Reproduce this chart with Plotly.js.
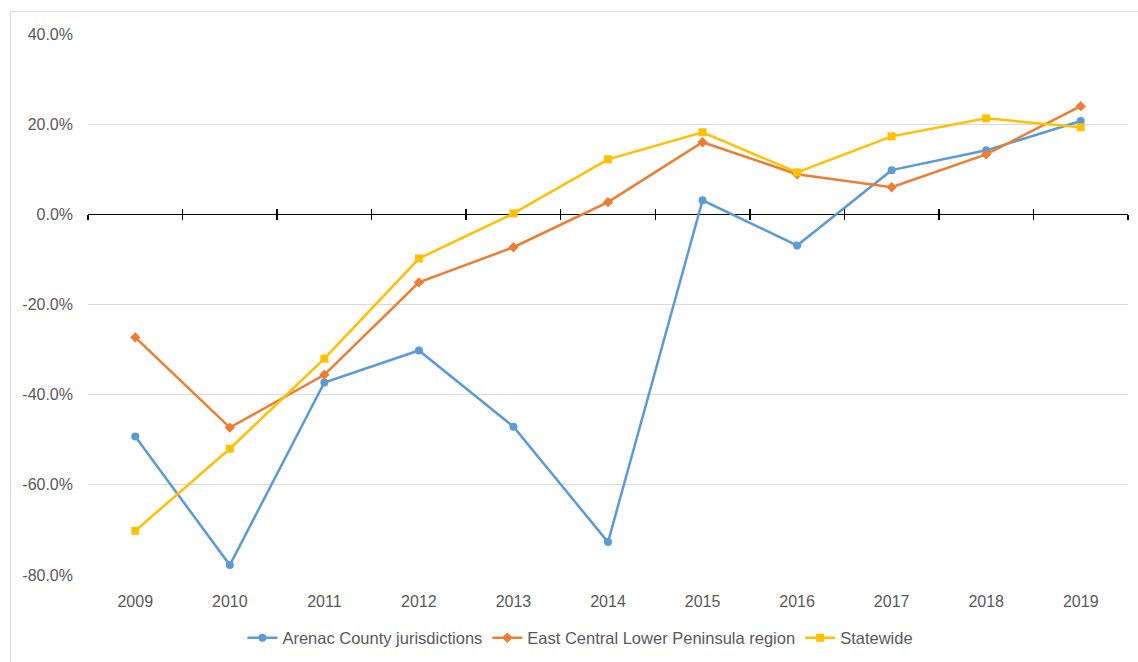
<!DOCTYPE html>
<html>
<head>
<meta charset="utf-8">
<script src="https://cdn.plot.ly/plotly-3.0.1.min.js"></script>
<style>
  html, body { margin: 0; padding: 0; background: #fff; }
  #chart { width: 1138px; height: 662px; }
  #frame { position: absolute; left: 10px; top: 11px; width: 1140px; height: 660px; border: 1px solid #d9d9d9; pointer-events: none; }
</style>
</head>
<body>
<div id="chart"></div>
<div id="frame"></div>
<script>
const years = ['2009','2010','2011','2012','2013','2014','2015','2016','2017','2018','2019'];
const arenac = [-49.3, -77.8, -37.3, -30.2, -47.1, -72.7, 3.1, -6.9, 9.8, 14.2, 20.7];
const eastCentral = [-27.3, -47.3, -35.6, -15.1, -7.3, 2.7, 16.0, 8.9, 6.0, 13.3, 24.0];
const statewide = [-70.2, -52.0, -32.0, -9.8, 0.2, 12.2, 18.2, 9.3, 17.3, 21.3, 19.3];
const seriesNames = ['Arenac County jurisdictions', 'East Central Lower Peninsula region', 'Statewide'];
const yTicks = [-80, -60, -40, -20, 0, 20, 40];

const boundaries = years.map((_, i) => i - 0.5).concat([years.length - 0.5]);

const font = 'Liberation Sans, Arial, sans-serif';
const traces = [
  { x: years, y: arenac, name: seriesNames[0], type: 'scatter', mode: 'lines+markers',
    line: { color: '#5B9BD5', width: 2.5 }, marker: { symbol: 'circle', size: 8, color: '#5B9BD5' } },
  { x: years, y: eastCentral, name: seriesNames[1], type: 'scatter', mode: 'lines+markers',
    line: { color: '#ED7D31', width: 2.5 }, marker: { symbol: 'diamond', size: 8, color: '#ED7D31' } },
  { x: years, y: statewide, name: seriesNames[2], type: 'scatter', mode: 'lines+markers',
    line: { color: '#FFC000', width: 2.5 }, marker: { symbol: 'square', size: 8, color: '#FFC000' } }
];

const zeroPos = (0 - (-80)) / (40 - (-80));

const layout = {
  width: 1138, height: 662,
  margin: { l: 88, r: 10, t: 34, b: 87, autoexpand: false },
  paper_bgcolor: '#fff', plot_bgcolor: '#fff',
  font: { family: font, size: 16, color: '#595959' },
  showlegend: true,
  legend: { orientation: 'h', xref: 'container', yref: 'container', x: 0.51, xanchor: 'center',
            y: (662 - 638) / 662, yanchor: 'middle',
            font: { family: font, size: 16.5, color: '#595959' }, itemwidth: 30, tracegroupgap: 0 },
  xaxis: { type: 'category', range: [-0.5, years.length - 0.5], showgrid: false, zeroline: false,
           automargin: false, showline: false, ticks: '', ticklabelstandoff: 15,
           tickfont: { size: 16, color: '#595959' } },
  xaxis2: { overlaying: 'x', anchor: 'free', position: zeroPos, side: 'bottom', type: 'linear',
            range: [-0.5, years.length - 0.5], tickmode: 'array', tickvals: boundaries,
            showticklabels: false, ticks: 'outside', ticklen: 5, tickwidth: 1.5, tickcolor: '#000',
            showgrid: false, zeroline: false, showline: false, automargin: false },
  xaxis3: { overlaying: 'x', anchor: 'free', position: zeroPos, side: 'bottom', type: 'linear',
            range: [-0.5, years.length - 0.5], tickmode: 'array', tickvals: boundaries,
            showticklabels: false, ticks: 'inside', ticklen: 5, tickwidth: 1.5, tickcolor: '#000',
            showgrid: false, zeroline: false, showline: false, automargin: false },
  yaxis: { range: [-80, 40], tickmode: 'array', tickvals: yTicks,
           ticktext: yTicks.map(v => v.toFixed(1) + '%'),
           showgrid: true, gridcolor: '#d9d9d9', gridwidth: 1, automargin: false,
           zeroline: true, zerolinecolor: '#000', zerolinewidth: 1.5,
           showline: false, ticks: '', ticklabelstandoff: 14, tickfont: { size: 16, color: '#595959' } }
};

traces.push({ x: [0], y: [0], xaxis: 'x2', type: 'scatter', mode: 'markers', marker: { opacity: 0 }, showlegend: false, hoverinfo: 'skip' });
traces.push({ x: [0], y: [0], xaxis: 'x3', type: 'scatter', mode: 'markers', marker: { opacity: 0 }, showlegend: false, hoverinfo: 'skip' });

Plotly.newPlot('chart', traces, layout, { displayModeBar: false, staticPlot: true });
</script>
</body>
</html>
